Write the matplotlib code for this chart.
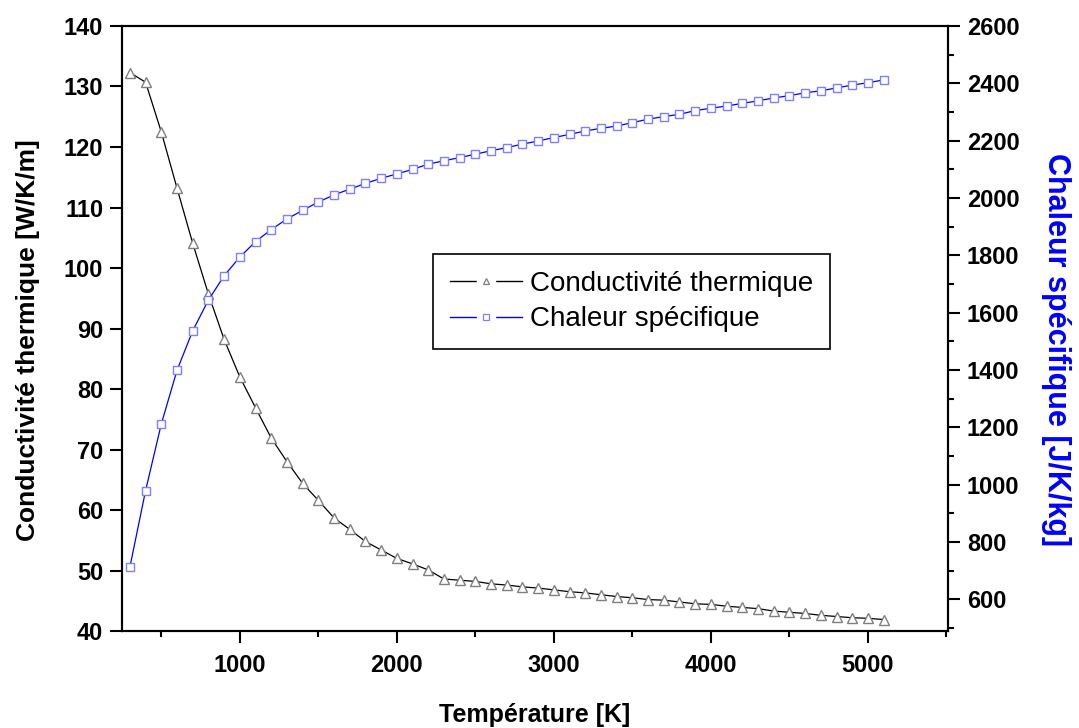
import matplotlib
matplotlib.use("Agg")
import matplotlib.pyplot as plt
from matplotlib.lines import Line2D
from matplotlib.legend_handler import HandlerTuple
from matplotlib.ticker import MultipleLocator

plt.rcParams['font.family'] = ['Liberation Sans', 'DejaVu Sans']

# Température [K], un point tous les 100 K
temperature = list(range(300, 5200, 100))

conductivite = [132.3, 130.7, 122.5, 113.2, 104.1, 95.7, 88.2, 82.0, 76.9, 71.9,
                68.0, 64.4, 61.6, 58.7, 56.8, 54.8, 53.4, 52.0, 51.1, 50.1,
                48.6, 48.4, 48.2, 47.8, 47.6, 47.3, 47.1, 46.8, 46.5, 46.3,
                46.0, 45.7, 45.5, 45.2, 45.1, 44.8, 44.5, 44.4, 44.1, 43.9,
                43.7, 43.3, 43.1, 42.9, 42.6, 42.4, 42.2, 42.1, 41.9]

chaleur = [713, 980, 1212, 1399, 1537, 1644, 1729, 1794, 1848, 1890,
           1927, 1957, 1986, 2011, 2031, 2051, 2069, 2084, 2100, 2118,
           2130, 2141, 2153, 2165, 2176, 2188, 2199, 2211, 2222, 2234,
           2243, 2251, 2263, 2275, 2284, 2292, 2305, 2313, 2321, 2330,
           2339, 2349, 2357, 2367, 2374, 2384, 2394, 2402, 2412]

noms = ['Conductivité thermique', 'Chaleur spécifique']

fig = plt.figure(figsize=(10.79, 7.28), dpi=100)
ax1 = fig.add_axes([0.1131, 0.1332, 0.7655, 0.8311])
ax2 = ax1.twinx()

ax1.plot(temperature, conductivite, color='black', lw=0.9,
         marker='^', ms=7.5, mfc='white', mec='#7f7f7f', mew=1.0)
ax2.plot(temperature, chaleur, color='#0000ff', lw=0.9,
         marker='s', ms=5.5, mfc='white', mec='#7f7fff', mew=1.0)

ax1.set_xlim(250, 5510)
ax1.set_ylim(40, 140)
ax2.set_ylim(490, 2600)

ax1.xaxis.set_major_locator(MultipleLocator(1000))
ax1.xaxis.set_minor_locator(MultipleLocator(500))
ax1.yaxis.set_major_locator(MultipleLocator(10))
ax2.yaxis.set_major_locator(MultipleLocator(200))
ax2.yaxis.set_minor_locator(MultipleLocator(100))

for ax in (ax1, ax2):
    ax.tick_params(which='major', direction='out', length=8.5, width=1.5,
                   labelsize=17, pad=5)
    ax.tick_params(which='minor', direction='out', length=4.5, width=1.5)
    for lab in ax.get_xticklabels() + ax.get_yticklabels():
        lab.set_fontweight('bold')
    for s in ax.spines.values():
        s.set_linewidth(1.5)
ax1.tick_params(axis='x', which='major', pad=8)
ax1.tick_params(top=False, right=False)
ax2.tick_params(top=False)

ax1.set_xlabel('Température [K]', fontsize=18, fontweight='bold', labelpad=19)
ax1.set_ylabel('Conductivité thermique [W/K/m]', fontsize=19, fontweight='bold',
               labelpad=17, y=0.48)
ax2.set_ylabel('Chaleur spécifique [J/K/kg]', fontsize=22, fontweight='bold',
               color='#0000ff', rotation=270, labelpad=37, y=0.465)

# legende : trait, masque blanc, puis petit symbole creux
def poignee(couleur, symbole, bord):
    trait = Line2D([], [], color=couleur, lw=1.0)
    masque = Line2D([], [], ls='none', marker='s', ms=13, mfc='white', mec='white')
    point = Line2D([], [], ls='none', marker=symbole, ms=5, mfc='white', mec=bord, mew=0.9)
    return (trait, masque, point)

handles = [poignee('black', '^', '#7f7f7f'), poignee('#0000ff', 's', '#7f7fff')]
leg = ax2.legend(handles, noms, loc='upper left', bbox_to_anchor=(0.3765, 0.623),
                 handler_map={tuple: HandlerTuple(ndivide=1)},
                 fontsize=20, frameon=True, fancybox=False, edgecolor='black',
                 handlelength=2.6, handletextpad=0.3, numpoints=1,
                 borderpad=0.6, labelspacing=0.35, borderaxespad=0)
leg.get_frame().set_linewidth(1.2)
leg.get_frame().set_alpha(1)

fig.savefig('out.png', dpi=100)
